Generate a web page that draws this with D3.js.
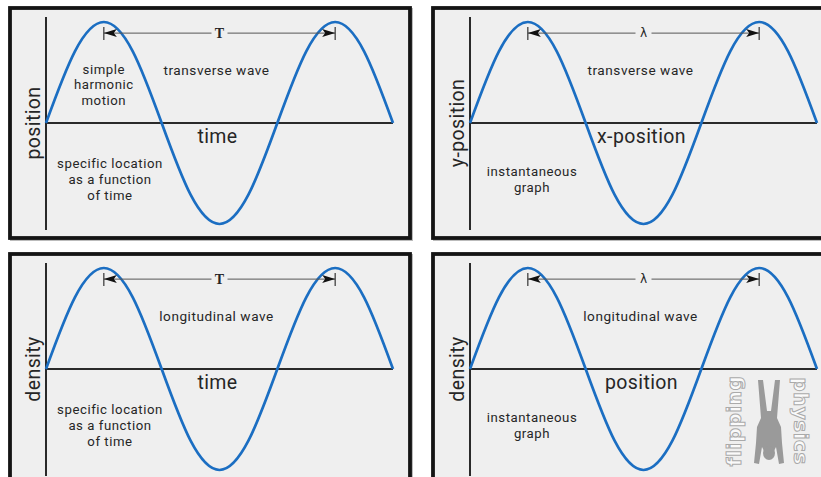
<!DOCTYPE html>
<html>
<head>
<meta charset="utf-8">
<script src="https://cdn.jsdelivr.net/npm/d3@7"></script>
<style>
  body { margin: 0; background: #fff; }
  svg { display: block; }
  text { font-family: Roboto, sans-serif; fill: #262626; }
</style>
</head>
<body>
<div id="chart"></div>
<script>
// wave, x in periods, y as fraction of amplitude
var wavePhase = [0, 0.125, 0.25, 0.375, 0.5, 0.625, 0.75, 0.875, 1, 1.125, 1.25, 1.375, 1.5];
var waveValue = [0, 0.71, 1, 0.71, 0, -0.71, -1, -0.71, 0, 0.71, 1, 0.71, 0];

var yLabels = ['position', 'y-position', 'density', 'density'];
var xLabels = ['time', 'x-position', 'time', 'position'];
var waveTypes = ['transverse wave', 'transverse wave', 'longitudinal wave', 'longitudinal wave'];
var spanLabels = ['T', 'λ', 'T', 'λ'];
var topNotes = [['simple', 'harmonic', 'motion'], [], [], []];
var lowNotes = [
  ['specific location', 'as a function', 'of time'],
  ['instantaneous', 'graph'],
  ['specific location', 'as a function', 'of time'],
  ['instantaneous', 'graph']
];
var spanStart = 0.25, spanEnd = 1.25, spanLevel = 0.89;

// layout (frame corner, axis origin)
var layout = [
  {fx: 10, fy: 8, ax: 46, zy: 123},
  {fx: 433, fy: 8, ax: 470, zy: 123},
  {fx: 10, fy: 254, ax: 46, zy: 369},
  {fx: 433, fy: 254, ax: 470, zy: 369}
];
var frameW = 400, frameH = 230;
var plotW = 347, amp = 101;

var svg = d3.select('#chart').append('svg')
  .attr('width', 821).attr('height', 477);

var blueLine = '#1b6ec2';

// several lines in one text element
function multiLine(g, lines, x, y, step) {
  var t = g.append('text')
    .attr('text-anchor', 'middle')
    .style('font-size', '13.2px')
    .style('letter-spacing', '0.55px');
  lines.forEach(function(s, k) {
    t.append('tspan').text(s)
      .attr('x', x).attr('y', y + k * step)
      .attr('dy', '0.35em');
  });
}

layout.forEach(function(p, i) {
  var g = svg.append('g');

  var x = d3.scaleLinear().domain([0, 1.5]).range([p.ax, p.ax + plotW]);
  var y = d3.scaleLinear().domain([-1, 1]).range([p.zy + amp, p.zy - amp]);

  // frame
  g.append('rect')
    .attr('x', p.fx + 1.5).attr('y', p.fy + 1.5)
    .attr('width', frameW).attr('height', frameH)
    .attr('fill', 'none').attr('stroke', '#bbb').attr('stroke-width', 3);
  g.append('rect')
    .attr('x', p.fx).attr('y', p.fy)
    .attr('width', frameW).attr('height', frameH)
    .attr('fill', '#efefef').attr('stroke', '#141414').attr('stroke-width', 3.8);

  // axes
  g.append('line')
    .attr('x1', p.ax).attr('x2', p.ax)
    .attr('y1', p.zy - 106).attr('y2', p.zy + 107)
    .attr('stroke', '#2a2a2a').attr('stroke-width', 2);
  g.append('line')
    .attr('x1', x(0)).attr('x2', x(1.5))
    .attr('y1', y(0)).attr('y2', y(0))
    .attr('stroke', '#2a2a2a').attr('stroke-width', 2);

  // the wave
  var line = d3.line()
    .x(function(d, j) { return x(wavePhase[j]); })
    .y(function(d) { return y(d); })
    .curve(d3.curveNatural);
  g.append('path')
    .attr('d', line(waveValue))
    .attr('fill', 'none')
    .attr('stroke', blueLine)
    .attr('stroke-width', 2.7);

  // period / wavelength span
  var sy = y(spanLevel);
  var x0 = x(spanStart), x1 = x(spanEnd), xm = (x0 + x1) / 2;
  g.append('line').attr('x1', x0).attr('x2', xm - 8).attr('y1', sy).attr('y2', sy)
    .attr('stroke', '#555').attr('stroke-width', 1);
  g.append('line').attr('x1', xm + 8).attr('x2', x1).attr('y1', sy).attr('y2', sy)
    .attr('stroke', '#555').attr('stroke-width', 1);
  [x0, x1].forEach(function(xx, k) {
    g.append('line').attr('x1', xx).attr('x2', xx)
      .attr('y1', sy - 6).attr('y2', sy + 7)
      .attr('stroke', '#333').attr('stroke-width', 1.2);
    var dir = k == 0 ? 1 : -1;
    g.append('path')
      .attr('d', 'M' + xx + ',' + sy + 'L' + (xx + dir * 13) + ',' + (sy - 4) +
                 'L' + (xx + dir * 10) + ',' + sy + 'L' + (xx + dir * 13) + ',' + (sy + 4) + 'Z')
      .attr('fill', '#111');
  });
  var isT = spanLabels[i] == 'T';
  g.append('text').text(spanLabels[i])
    .attr('x', xm).attr('y', sy)
    .attr('dy', '0.35em')
    .attr('text-anchor', 'middle')
    .style('font-family', isT ? '"Liberation Serif", serif' : '"DejaVu Sans", sans-serif')
    .style('font-weight', isT ? 'bold' : 'normal')
    .style('font-size', isT ? '14px' : '12px');

  // labels
  g.append('text').text(waveTypes[i])
    .attr('x', x(0.75) - 3).attr('y', p.zy - 53)
    .attr('dy', '0.35em').attr('text-anchor', 'middle')
    .style('font-size', '13.6px').style('letter-spacing', '0.55px');

  g.append('text').text(xLabels[i])
    .attr('x', x(0.75) - 2).attr('y', p.zy + 13)
    .attr('dy', '0.35em').attr('text-anchor', 'middle')
    .style('font-size', '19.5px').style('letter-spacing', '0.4px');

  g.append('text').text(yLabels[i])
    .attr('transform', 'translate(' + (p.ax - 13) + ',' + p.zy + ') rotate(-90)')
    .attr('dy', '0.35em').attr('text-anchor', 'middle')
    .style('font-size', '19.5px').style('letter-spacing', '0.4px');

  if (topNotes[i].length) multiLine(g, topNotes[i], x(0.25), p.zy - 54, 15.5);

  var twoLine = lowNotes[i].length == 2;
  multiLine(g, lowNotes[i], p.ax + (twoLine ? 62 : 64),
            p.zy + (twoLine ? 48 : 40), 16);
});

// logo, bottom right corner
var logo = svg.append('g').attr('transform', 'translate(769,421)');
[['flipping', -35, -90], ['physics', 32, 90]].forEach(function(w) {
  logo.append('text').text(w[0])
    .attr('transform', 'translate(' + w[1] + ',0) rotate(' + w[2] + ')')
    .attr('text-anchor', 'middle').attr('dy', '0.35em')
    .style('font-family', '"DejaVu Sans", sans-serif')
    .style('font-weight', 'bold').style('font-size', '20px')
    .style('letter-spacing', '0.5px')
    .style('fill', '#fafafa').style('stroke', '#aaa').style('stroke-width', 1);
});
// upside-down figure
logo.append('path')
  .attr('d', 'M-11,-41 L-6,-41 L-2,-10 L2,-10 L6,-41 L11,-41 L8,-3 L12,6 L13,22 L15,42 L10,43 ' +
             'L7,26 L5,30 L-5,30 L-7,26 L-10,43 L-15,42 L-13,22 L-12,6 L-8,-3 Z')
  .attr('fill', '#9a9a9a');
logo.append('ellipse').attr('cx', 0).attr('cy', 32).attr('rx', 6).attr('ry', 7).attr('fill', '#9a9a9a');
</script>
</body>
</html>
